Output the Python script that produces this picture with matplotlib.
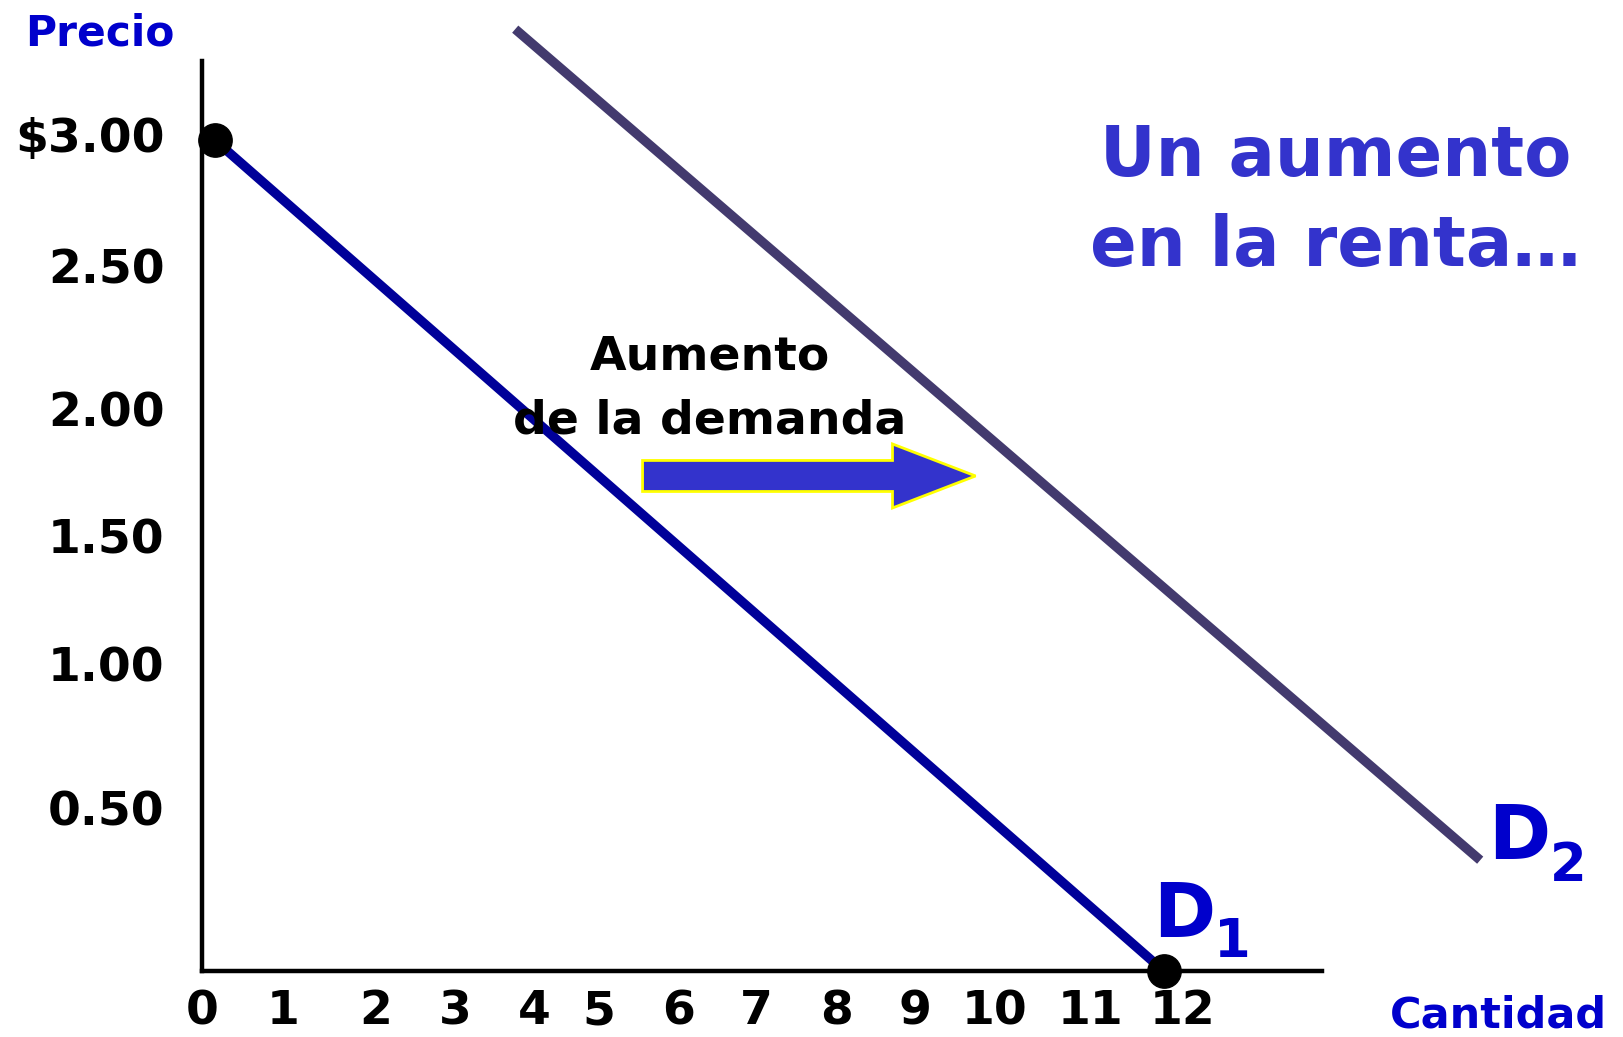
import matplotlib
matplotlib.use("Agg")
import matplotlib.pyplot as plt
from matplotlib.patches import FancyArrow

# ---- data ----
quantity_ticks = [0, 1, 2, 3, 4, 5, 6, 7, 8, 9, 10, 11, 12]
quantity_labels = ["0", "1", "2", "3", "4", "5", "6", "7", "8", "9", "10", "11", "12"]
price_ticks = [3.00, 2.50, 2.00, 1.50, 1.00, 0.50]
price_labels = ["$3.00", "2.50", "2.00", "1.50", "1.00", "0.50"]
d1_q = [0, 12]
d1_p = [3.0, 0.0]
d2_q = [3.8, 16.0]
d2_p = [3.4, 0.4]
shift_from_q = 5.41
shift_to_q = 9.62
shift_p = 1.787

plt.rcParams['font.family'] = ['DejaVu Sans']
plt.rcParams['font.weight'] = 'bold'

W, H = 1623, 1037
fig = plt.figure(figsize=(W / 100, H / 100), dpi=100)
ax = fig.add_axes([202 / W, 66 / H, 1120 / W, 910 / H])
ax.set_xlim(0, 14)
ax.set_ylim(0, 3.285)

for s in ['top', 'right']:
    ax.spines[s].set_visible(False)
for s in ['left', 'bottom']:
    ax.spines[s].set_linewidth(3.2)
    ax.spines[s].set_color('black')

# label layout (slightly irregular as in the reference)
x_label_pos = [-0.16, 0.86, 2.04, 3.04, 4.04, 4.86, 5.87, 6.85, 7.86, 8.85, 9.86, 11.08, 12.24]
y_label_pos = [3.02, 2.545, 2.03, 1.57, 1.11, 0.59]
ax.set_xticks(x_label_pos, quantity_labels, fontsize=34, fontweight='bold')
ax.set_yticks(y_label_pos, price_labels, fontsize=34, fontweight='bold')
ax.tick_params(axis='x', length=0, pad=13)
ax.tick_params(axis='y', length=0, pad=27)

# demand curves
ax.plot(d2_q, d2_p, color='#433A6E', lw=6.8, solid_capstyle='butt', clip_on=False, zorder=3)
ax.plot(d1_q, d1_p, color='#000099', lw=6.8, solid_capstyle='butt', clip_on=False, zorder=3)
ax.plot([d1_q[0], d1_q[1]], [d1_p[0], d1_p[1]], 'o', color='black', ms=24, clip_on=False, zorder=4)

# shift arrow
ax.add_patch(FancyArrow(shift_from_q, shift_p, shift_to_q - shift_from_q, 0,
                        width=0.112, head_width=0.231, head_length=1.05,
                        length_includes_head=True, fc='#3333CC', ec='#FFFF00',
                        lw=2, zorder=5, clip_on=False))

# curve labels
ax.text(11.86, 0.123, "D", color='#0000CC', fontsize=54, fontweight='bold', ha='left', va='baseline', clip_on=False)
ax.text(12.63, 0.05, "1", color='#0000CC', fontsize=38, fontweight='bold', ha='left', va='baseline', clip_on=False)
ax.text(16.1, 0.404, "D", color='#0000CC', fontsize=54, fontweight='bold', ha='left', va='baseline', clip_on=False)
ax.text(16.88, 0.325, "2", color='#0000CC', fontsize=38, fontweight='bold', ha='left', va='baseline', clip_on=False)

# annotation over the arrow
fig.text(710 / W, 1 - 370 / H, "Aumento", color='black', fontsize=34, fontweight='bold',
         ha='center', va='baseline', zorder=6)
fig.text(710 / W, 1 - 433 / H, "de la demanda", color='black', fontsize=34, fontweight='bold',
         ha='center', va='baseline', zorder=6)

fig.text(1336 / W, 1 - 176 / H, "Un aumento", color='#3333CC', fontsize=49.5,
         fontweight='bold', ha='center', va='baseline')
fig.text(1336 / W, 1 - 266 / H, "en la renta…", color='#3333CC', fontsize=49.5,
         fontweight='bold', ha='center', va='baseline')
fig.text(100 / W, 1 - 45 / H, "Precio", color='#0000CC', fontsize=30.5, fontweight='bold',
         ha='center', va='baseline')
fig.text(1498 / W, 1 - 1027 / H, "Cantidad", color='#0000CC', fontsize=31, fontweight='bold',
         ha='center', va='baseline')

fig.savefig("out.png", dpi=100)
